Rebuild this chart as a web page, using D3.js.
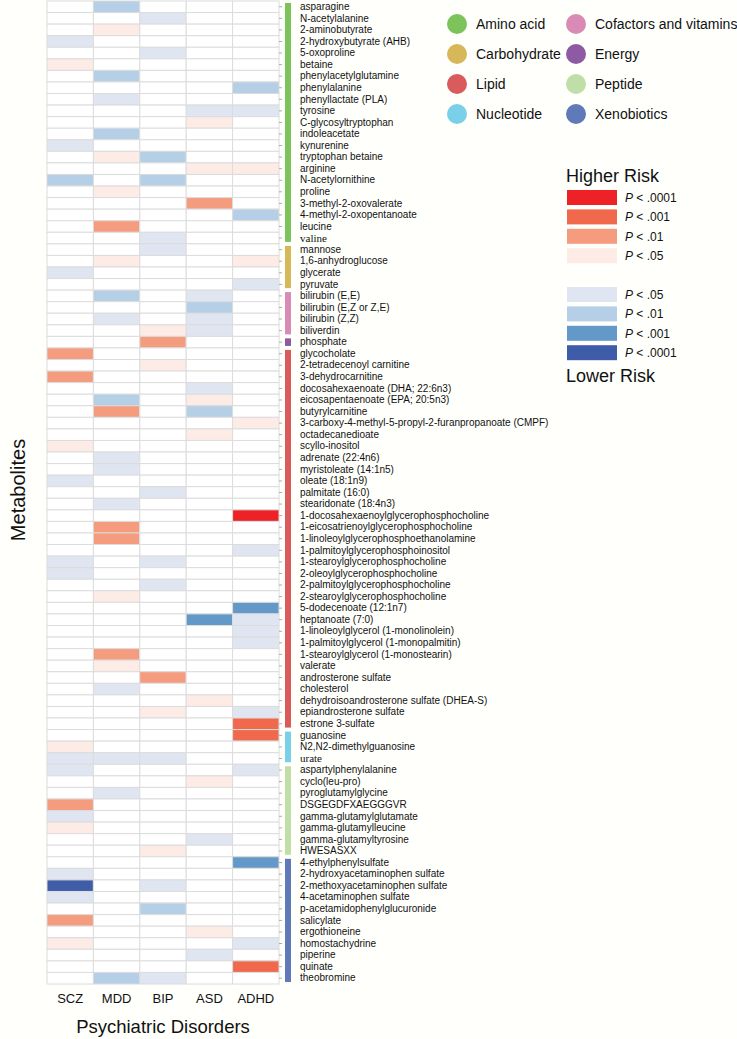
<!DOCTYPE html>
<html>
<head>
<meta charset="utf-8">
<script src="https://cdn.jsdelivr.net/npm/d3@7"></script>
<style>
  body { margin: 0; background: #fffffc; }
  svg { font-family: "Liberation Sans", Arial, sans-serif; }
</style>
</head>
<body>
<svg id="heatmap"></svg>
<script>
// columns
var disorders = ["SCZ", "MDD", "BIP", "ASD", "ADHD"]

// metabolite rows, top to bottom
var metabolites = [
  "asparagine", "N-acetylalanine", "2-aminobutyrate", "2-hydroxybutyrate (AHB)", "5-oxoproline",
  "betaine", "phenylacetylglutamine", "phenylalanine", "phenyllactate (PLA)", "tyrosine",
  "C-glycosyltryptophan", "indoleacetate", "kynurenine", "tryptophan betaine", "arginine",
  "N-acetylornithine", "proline", "3-methyl-2-oxovalerate", "4-methyl-2-oxopentanoate", "leucine",
  "valine",
  "mannose", "1,6-anhydroglucose", "glycerate", "pyruvate",
  "bilirubin (E,E)", "bilirubin (E,Z or Z,E)", "bilirubin (Z,Z)", "biliverdin",
  "phosphate",
  "glycocholate", "2-tetradecenoyl carnitine", "3-dehydrocarnitine", "docosahexaenoate (DHA; 22:6n3)",
  "eicosapentaenoate (EPA; 20:5n3)", "butyrylcarnitine",
  "3-carboxy-4-methyl-5-propyl-2-furanpropanoate (CMPF)", "octadecanedioate", "scyllo-inositol",
  "adrenate (22:4n6)", "myristoleate (14:1n5)", "oleate (18:1n9)", "palmitate (16:0)",
  "stearidonate (18:4n3)", "1-docosahexaenoylglycerophosphocholine", "1-eicosatrienoylglycerophosphocholine",
  "1-linoleoylglycerophosphoethanolamine", "1-palmitoylglycerophosphoinositol",
  "1-stearoylglycerophosphocholine", "2-oleoylglycerophosphocholine", "2-palmitoylglycerophosphocholine",
  "2-stearoylglycerophosphocholine", "5-dodecenoate (12:1n7)", "heptanoate (7:0)",
  "1-linoleoylglycerol (1-monolinolein)", "1-palmitoylglycerol (1-monopalmitin)",
  "1-stearoylglycerol (1-monostearin)", "valerate", "androsterone sulfate", "cholesterol",
  "dehydroisoandrosterone sulfate (DHEA-S)", "epiandrosterone sulfate", "estrone 3-sulfate",
  "guanosine", "N2,N2-dimethylguanosine", "urate",
  "aspartylphenylalanine", "cyclo(leu-pro)", "pyroglutamylglycine", "DSGEGDFXAEGGGVR",
  "gamma-glutamylglutamate", "gamma-glutamylleucine", "gamma-glutamyltyrosine", "HWESASXX",
  "4-ethylphenylsulfate", "2-hydroxyacetaminophen sulfate", "2-methoxyacetaminophen sulfate",
  "4-acetaminophen sulfate", "p-acetamidophenylglucuronide", "salicylate", "ergothioneine",
  "homostachydrine", "piperine", "quinate", "theobromine"
]

// significance per row (SCZ, MDD, BIP, ASD, ADHD)
// +1..+4 higher risk P<.05/.01/.001/.0001, -1..-4 lower risk
var levels = [
  [0,-2,0,0,0],[0,0,-1,0,0],[0,1,0,0,0],[-1,0,0,0,0],[0,0,-1,0,0],
  [1,0,0,0,0],[0,-2,0,0,0],[0,0,0,0,-2],[0,-1,0,0,0],[0,0,0,-1,-1],
  [0,0,0,1,0],[0,-2,0,0,0],[-1,0,0,0,0],[0,1,-2,0,0],[0,0,0,1,1],
  [-2,0,-2,0,0],[0,1,0,0,0],[0,0,0,2,0],[0,0,0,0,-2],[0,2,0,0,0],
  [0,0,-1,0,0],
  [0,0,-1,0,0],[0,1,0,0,1],[-1,0,0,0,0],[0,0,0,0,-1],
  [0,-2,0,-1,0],[0,0,0,-2,0],[0,-1,0,-1,0],[0,0,1,-1,0],
  [0,0,2,0,0],
  [2,0,0,0,0],[0,0,1,0,0],[2,0,0,0,0],[0,0,0,-1,0],
  [0,-2,0,1,0],[0,2,0,-2,0],
  [0,0,0,0,1],[0,0,0,1,0],[1,0,0,0,0],
  [0,-1,0,0,0],[0,-1,0,0,0],[-1,0,0,0,0],[0,0,-1,0,0],
  [0,-1,0,0,0],[0,0,0,0,4],[0,2,0,0,0],
  [0,2,0,0,0],[0,0,0,0,-1],
  [-1,0,-1,0,0],[-1,0,0,0,0],[0,0,-1,0,0],
  [0,1,0,0,0],[0,0,0,0,-3],[0,0,0,-3,-1],
  [0,0,0,0,-1],[0,0,0,0,-1],
  [0,2,0,0,0],[0,1,0,0,0],[0,0,2,0,0],[0,-1,0,0,0],
  [0,0,0,1,0],[0,0,1,0,-1],[0,0,0,0,3],
  [0,0,0,0,3],[1,0,0,0,0],[-1,-1,-1,0,0],
  [-1,0,0,0,-1],[0,0,0,1,0],[0,-1,0,0,0],[2,0,0,0,0],
  [-1,0,0,0,0],[1,0,0,0,0],[0,0,0,-1,0],[0,0,1,0,0],
  [0,0,0,0,-3],[-1,0,0,0,0],[-4,0,-1,0,0],
  [-1,0,0,0,0],[0,0,-2,0,0],[2,0,0,0,0],[0,0,0,1,0],
  [1,0,0,0,-1],[0,0,0,-1,0],[0,0,0,0,3],[0,-2,-1,0,0]
]

// super pathways and how many rows each one holds
var groups = ["Amino acid", "Carbohydrate", "Cofactors and vitamins", "Energy", "Lipid", "Nucleotide", "Peptide", "Xenobiotics"]
var groupSizes = [21, 4, 4, 1, 33, 3, 8, 11]
var groupColors = ["#7dc35c", "#d6b85a", "#d98ab5", "#8e5aa3", "#d95b5b", "#79d0e8", "#c0dfa8", "#5f79b9"]
var legendOrder = ["Amino acid", "Carbohydrate", "Lipid", "Nucleotide", "Cofactors and vitamins", "Energy", "Peptide", "Xenobiotics"]

var riskLevels = [4, 3, 2, 1, -1, -2, -3, -4]
var riskLabels = [".0001", ".001", ".01", ".05", ".05", ".01", ".001", ".0001"]
var riskColors = ["#ee2127", "#f0694c", "#f59c7f", "#fdebe6", "#dfe5f1", "#b5d0e6", "#6399c8", "#3f5ca8"]

var dimensions = {
  width: 737,
  height: 1039,
  margin: { top: 1, bottom: 55, left: 47, right: 458 }
}

var svg = d3.select("#heatmap")
  .attr("width", dimensions.width)
  .attr("height", dimensions.height)

svg.append("rect")
  .attr("width", dimensions.width)
  .attr("height", dimensions.height)
  .attr("fill", "#fffffc")

var xScale = d3.scaleBand()
  .domain(disorders)
  .range([dimensions.margin.left, dimensions.width - dimensions.margin.right])

var yScale = d3.scaleBand()
  .domain(metabolites)
  .range([dimensions.margin.top, dimensions.height - dimensions.margin.bottom])

var colorScale = d3.scaleOrdinal()
  .domain(riskLevels)
  .range(riskColors)

// flatten to cells
var cells = []
metabolites.forEach(function(m, i){
  disorders.forEach(function(d, j){
    cells.push({ metabolite: m, disorder: d, level: levels[i][j] })
  })
})

svg.append("g")
  .selectAll("rect")
  .data(cells)
  .enter().append("rect")
  .attr("x", d => xScale(d.disorder))
  .attr("y", d => yScale(d.metabolite))
  .attr("width", xScale.bandwidth())
  .attr("height", yScale.bandwidth())
  .attr("fill", d => d.level == 0 ? "#ffffff" : colorScale(d.level))
  .attr("stroke", "#dcdcdc")
  .attr("stroke-width", 1)

// right axis with metabolite names
var yAxis = svg.append("g")
  .attr("transform", `translate(${xScale.range()[1]},0)`)
  .call(d3.axisRight(yScale).tickSize(3).tickPadding(18))
yAxis.select(".domain").remove()
yAxis.selectAll(".tick line").attr("stroke", "#aaa")
yAxis.selectAll(".tick text")
  .attr("fill", "#111")
  .style("font-size", d => (d == "valine" || d == "urate") ? "11px" : "10px")
  .style("font-family", d => (d == "valine" || d == "urate") ? "'Liberation Serif', serif" : null)

// pathway bars
var start = 0
groups.forEach(function(g, i){
  var first = metabolites[start]
  var last = metabolites[start + groupSizes[i] - 1]
  var y0 = yScale(first) + 2
  var y1 = yScale(last) + yScale.bandwidth() - 2
  svg.append("rect")
    .attr("x", xScale.range()[1] + 6)
    .attr("y", y0)
    .attr("width", 6)
    .attr("height", y1 - y0)
    .attr("fill", groupColors[i])
  start += groupSizes[i]
})

// bottom axis
var xAxis = svg.append("g")
  .attr("transform", `translate(0,${yScale.range()[1]})`)
  .call(d3.axisBottom(xScale).tickSize(0).tickPadding(10))
xAxis.select(".domain").remove()
xAxis.selectAll("text").style("font-size", "13px").attr("fill", "#111")

svg.append("text")
  .attr("x", (xScale.range()[0] + xScale.range()[1]) / 2)
  .attr("y", 1033)
  .attr("text-anchor", "middle")
  .style("font-size", "18.5px")
  .attr("fill", "#111")
  .text("Psychiatric Disorders")

svg.append("text")
  .attr("transform", "translate(25,490) rotate(-90)")
  .attr("text-anchor", "middle")
  .style("font-size", "20px")
  .attr("fill", "#111")
  .text("Metabolites")

// pathway legend
var legend = svg.append("g")
legendOrder.forEach(function(g, i){
  var col = Math.floor(i / 4)
  var row = i % 4
  var cx = 457 + col * 119
  var cy = 24 + row * 30
  legend.append("circle")
    .attr("cx", cx)
    .attr("cy", cy)
    .attr("r", 10)
    .attr("fill", groupColors[groups.indexOf(g)])
  legend.append("text")
    .attr("x", cx + 19)
    .attr("y", cy + 5)
    .style("font-size", "14px")
    .attr("fill", "#111")
    .text(g)
})

// risk legend
svg.append("text")
  .attr("x", 566)
  .attr("y", 182)
  .style("font-size", "18px")
  .attr("fill", "#111")
  .text("Higher Risk")

riskLevels.forEach(function(r, i){
  var y = 190 + i * 19.4 + (i >= 4 ? 19.4 : 0)
  svg.append("rect")
    .attr("x", 567)
    .attr("y", y)
    .attr("width", 50)
    .attr("height", 15)
    .attr("fill", colorScale(r))
  var t = svg.append("text")
    .attr("x", 625)
    .attr("y", y + 12)
    .style("font-size", "12px")
    .attr("fill", "#111")
  t.append("tspan").style("font-style", "italic").text("P")
  t.append("tspan").text(" < " + riskLabels[i])
})

svg.append("text")
  .attr("x", 566)
  .attr("y", 382)
  .style("font-size", "18px")
  .attr("fill", "#111")
  .text("Lower Risk")
</script>
</body>
</html>
